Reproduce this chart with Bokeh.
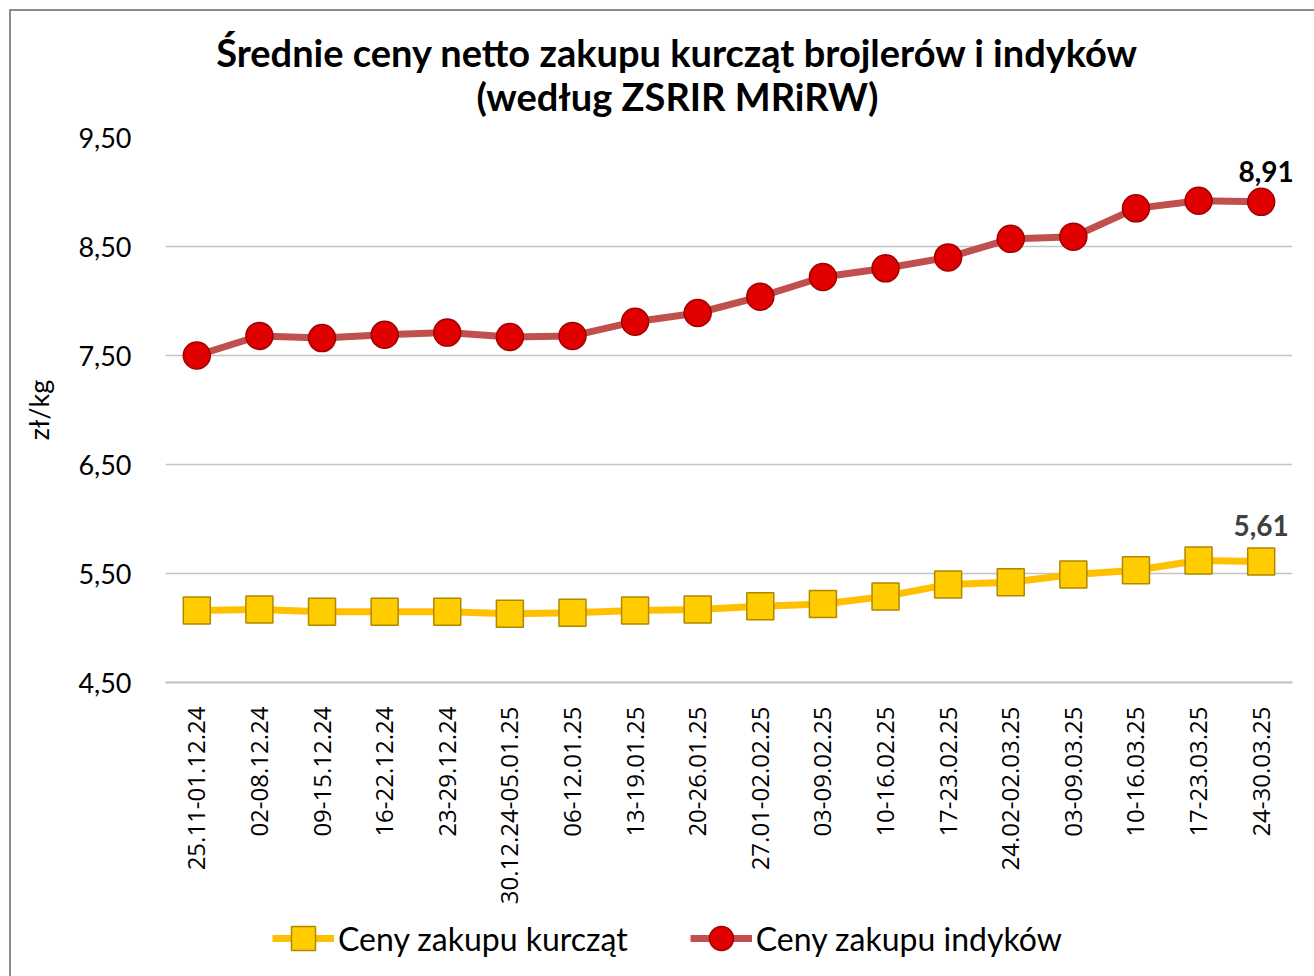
import math
from bokeh.plotting import figure
from bokeh.layouts import column
from bokeh.models import (ColumnDataSource, FactorRange, Range1d, FixedTicker, CustomJSTickFormatter,
                          Legend, LegendItem, LabelSet, Label)
from bokeh.core.properties import value
from bokeh.embed import file_html
from bokeh.resources import INLINE

# ---- data ----
weeks = ["25.11-01.12.24", "02-08.12.24", "09-15.12.24", "16-22.12.24", "23-29.12.24",
         "30.12.24-05.01.25", "06-12.01.25", "13-19.01.25", "20-26.01.25", "27.01-02.02.25",
         "03-09.02.25", "10-16.02.25", "17-23.02.25", "24.02-02.03.25", "03-09.03.25",
         "10-16.03.25", "17-23.03.25", "24-30.03.25"]
kurczeta = [5.16, 5.17, 5.15, 5.15, 5.15, 5.13, 5.14, 5.16, 5.17, 5.20,
            5.22, 5.29, 5.40, 5.42, 5.49, 5.53, 5.62, 5.61]
indyki = [7.50, 7.68, 7.66, 7.69, 7.71, 7.67, 7.68, 7.81, 7.89, 8.04,
          8.22, 8.30, 8.40, 8.57, 8.59, 8.85, 8.92, 8.91]
y_ticks = [4.5, 5.5, 6.5, 7.5, 8.5, 9.5]

title_line1 = "Średnie ceny netto zakupu kurcząt brojlerów i indyków"
title_line2 = "(według ZSRIR MRiRW)"
name_k = "Ceny zakupu kurcząt"
name_i = "Ceny zakupu indyków"
y_label = "zł/kg"

# styles
COL_K_LINE, COL_K_FILL, COL_K_EDGE = "#FFC000", "#FFCC00", "#B08800"
COL_I_LINE, COL_I_FILL, COL_I_EDGE = "#C0504D", "#E00000", "#A00000"
W = 1303


def blank_fig(h):
    f = figure(width=W, height=h, x_range=Range1d(0, 1), y_range=Range1d(0, 1),
               x_axis_type=None, y_axis_type=None, output_backend="svg", toolbar_location=None,
               min_border=0, background_fill_color="white", border_fill_color="white")
    f.outline_line_color = None
    f.grid.visible = False
    return f


# ---- title block (frame is aligned with the chart frame below) ----
tf = blank_fig(106)
tf.add_layout(Label(x=512, y=66, x_units="screen", y_units="screen", text=title_line1,
                    text_align="center", text_baseline="middle", text_font="Lato",
                    text_font_size="38px", text_font_style="bold", text_color="black"))
tf.add_layout(Label(x=512, y=22, x_units="screen", y_units="screen", text=title_line2,
                    text_align="center", text_baseline="middle", text_font="Lato",
                    text_font_size="38px", text_font_style="bold", text_color="black"))

# ---- main chart ----
src = ColumnDataSource(dict(x=weeks, k=kurczeta, i=indyki))

p = figure(x_range=FactorRange(*weeks), y_range=(4.5, 9.5),
           width=W, height=794, output_backend="svg", toolbar_location=None,
           min_border_left=154, min_border_right=22, min_border_top=20, min_border_bottom=229,
           background_fill_color="white", border_fill_color="white")
p.outline_line_color = None

p.yaxis.ticker = FixedTicker(ticks=y_ticks)
p.yaxis.formatter = CustomJSTickFormatter(code="return tick.toFixed(2).replace('.', ',');")
p.yaxis.axis_line_color = None
p.yaxis.major_tick_line_color = None
p.yaxis.minor_tick_line_color = None
p.yaxis.major_label_text_font = "Lato"
p.yaxis.major_label_text_font_size = "27px"
p.yaxis.major_label_text_color = "black"
p.yaxis.major_label_standoff = 28
p.yaxis.axis_label = y_label
p.yaxis.axis_label_text_font = "Lato"
p.yaxis.axis_label_text_font_size = "27px"
p.yaxis.axis_label_text_font_style = "normal"
p.yaxis.axis_label_text_color = "black"
p.yaxis.axis_label_standoff = 20

p.xaxis.axis_line_color = "#bfbfbf"
p.xaxis.axis_line_width = 2
p.xaxis.major_tick_line_color = None
p.xaxis.minor_tick_line_color = None
p.xaxis.major_label_orientation = math.pi / 2
p.xaxis.major_label_text_font = "Open Sans"
p.xaxis.major_label_text_font_size = "24px"
p.xaxis.major_label_text_color = "black"
p.xaxis.major_label_standoff = 18

p.xgrid.grid_line_color = None
p.ygrid.grid_line_color = "#c4c4c4"
p.ygrid.grid_line_width = 1.5

p.line("x", "k", source=src, line_color=COL_K_LINE, line_width=7)
p.scatter("x", "k", source=src, marker="square", size=27,
          fill_color=COL_K_FILL, line_color=COL_K_EDGE, line_width=1.5)
p.line("x", "i", source=src, line_color=COL_I_LINE, line_width=7)
p.scatter("x", "i", source=src, marker="circle", size=27,
          fill_color=COL_I_FILL, line_color=COL_I_EDGE, line_width=1.5)

lab_i = ColumnDataSource(dict(x=[weeks[-1]], y=[indyki[-1]],
                              t=[f"{indyki[-1]:.2f}".replace(".", ",")]))
lab_k = ColumnDataSource(dict(x=[weeks[-1]], y=[kurczeta[-1]],
                              t=[f"{kurczeta[-1]:.2f}".replace(".", ",")]))
p.add_layout(LabelSet(x="x", y="y", text="t", source=lab_i, x_offset=5, y_offset=30,
                      text_align="center", text_baseline="middle", text_font=value("Lato"),
                      text_font_size="28px", text_font_style="bold", text_color="black"))
p.add_layout(LabelSet(x="x", y="y", text="t", source=lab_k, x_offset=0, y_offset=36,
                      text_align="center", text_baseline="middle", text_font=value("Lato"),
                      text_font_size="28px", text_font_style="bold", text_color="#404040"))

# ---- legend block ----
# legend renderers hold the first data point, which lies outside this strip's y range (0-1),
# so only their legend glyphs are visible
lf = blank_fig(65)
leg_src = ColumnDataSource(dict(x=[0.5], k=[kurczeta[0]], i=[indyki[0]]))
g_lk = lf.line("x", "k", source=leg_src, line_color=COL_K_LINE, line_width=7)
g_mk = lf.scatter("x", "k", source=leg_src, marker="square", size=27,
                  fill_color=COL_K_FILL, line_color=COL_K_EDGE, line_width=1.5)
g_li = lf.line("x", "i", source=leg_src, line_color=COL_I_LINE, line_width=7)
g_mi = lf.scatter("x", "i", source=leg_src, marker="circle", size=27,
                  fill_color=COL_I_FILL, line_color=COL_I_EDGE, line_width=1.5)
legend = Legend(items=[LegendItem(label=name_k, renderers=[g_lk, g_mk]),
                       LegendItem(label=name_i, renderers=[g_li, g_mi])],
                location=(107, 8), orientation="horizontal",
                glyph_width=62, glyph_height=60, label_standoff=4, spacing=62,
                padding=0, margin=0, border_line_color=None, background_fill_alpha=0,
                label_text_font="Lato", label_text_font_size="32px", label_text_color="black")
lf.add_layout(legend, "center")

layout = column(tf, p, lf, spacing=0)
layout.styles = {"border-top": "2px solid #8c8c8c", "border-left": "2px solid #8c8c8c",
                 "margin-left": "9px", "margin-top": "9px"}

open("out.html", "w").write(file_html(layout, INLINE))
